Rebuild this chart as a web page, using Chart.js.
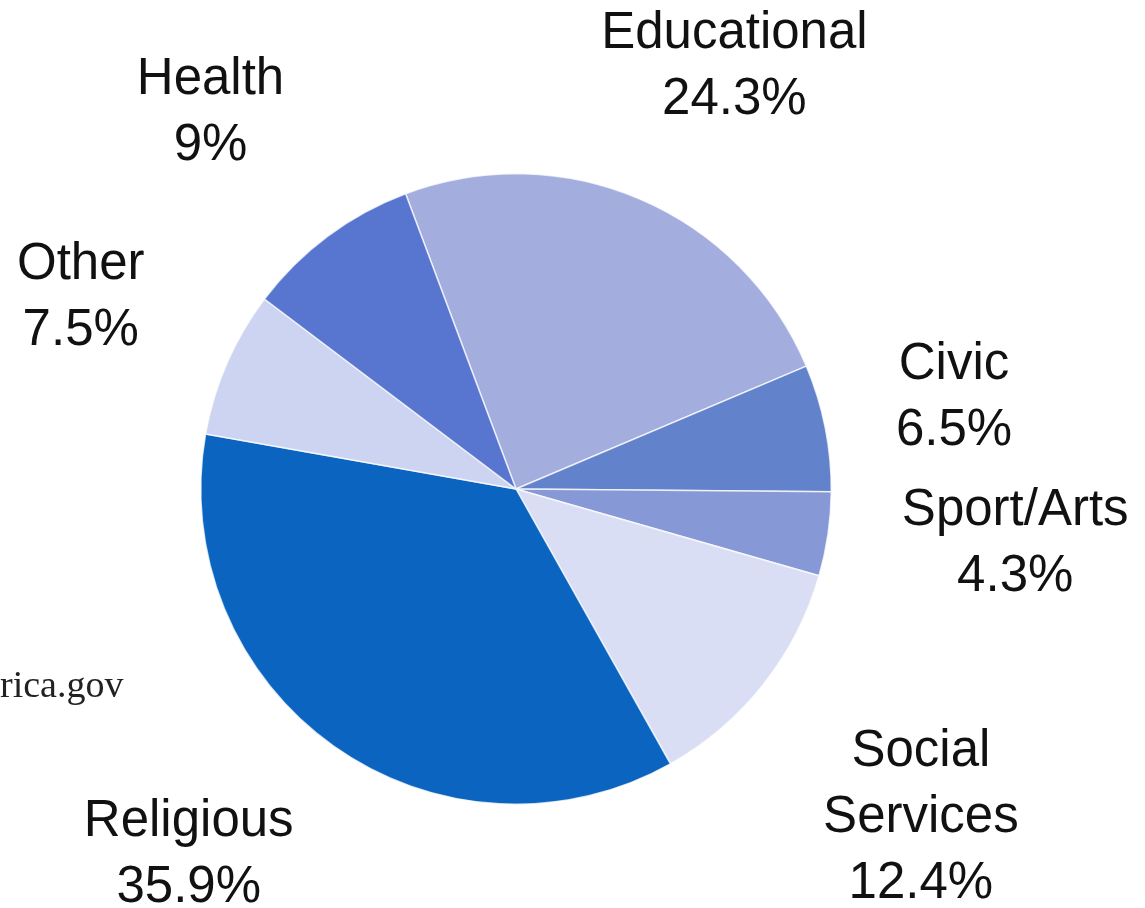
<!DOCTYPE html>
<html>
<head>
<meta charset="utf-8">
<script src="https://cdn.jsdelivr.net/npm/chart.js@4"></script>
<style>
    html, body { margin: 0; padding: 0; background: #fff; }
    #wrap { position: relative; width: 1145px; height: 908px; }
    #source {
        position: absolute; left: 0; top: 662px;
        font-family: "Liberation Serif", serif; font-size: 38px; color: #222;
    }
</style>
</head>
<body>
<div id="wrap">
    <canvas id="pie-chart" width="1145" height="908"></canvas>
    <div id="source">rica.gov</div>
</div>
<script>
// slices in clockwise order, starting at Educational
const categories = ['Educational', 'Civic', 'Sport/Arts', ['Social', 'Services'], 'Religious', 'Other', 'Health']
const shares     = [24.3, 6.5, 4.3, 12.4, 35.9, 7.5, 9]
const colors     = ['#a3aedf', '#6282cb', '#8798d6', '#dadef4', '#0a64c0', '#cdd4f1', '#5876cf']

// small hand tweaks so labels sit where the original put them
const labelNudge = [[29, 18], [-32, 2], [25, -14], [29, 32], [-50, -25], [4, 0], [-19, 8]]

const sliceLabels = {
    id: 'sliceLabels',
    afterDatasetsDraw(chart) {
        const ctx = chart.ctx
        const arcs = chart.getDatasetMeta(0).data
        ctx.save()
        ctx.font = '51px "Liberation Sans", Arial, sans-serif'
        ctx.fillStyle = '#111'
        ctx.textAlign = 'center'
        ctx.textBaseline = 'middle'
        arcs.forEach((arc, i) => {
            const mid = (arc.startAngle + arc.endAngle) / 2
            const dist = arc.outerRadius * 1.52
            const x = arc.x + Math.cos(mid) * dist + labelNudge[i][0]
            const y = arc.y + Math.sin(mid) * dist + labelNudge[i][1]
            const name = categories[i]
            const lines = (Array.isArray(name) ? name : [name]).concat(`${shares[i]}%`)
            const lh = 66
            const top = y - (lines.length - 1) * lh / 2
            lines.forEach((t, j) => ctx.fillText(t, x, top + j * lh))
        })
        ctx.restore()
    }
}

new Chart(document.getElementById('pie-chart').getContext('2d'), {
    type: 'pie',
    data: {
        labels: categories,
        datasets: [{
            data: shares,
            backgroundColor: colors,
            borderColor: 'rgba(255, 255, 255, 0.75)',
            borderWidth: 1.5
        }]
    },
    options: {
        responsive: false,
        animation: false,
        devicePixelRatio: 1,
        rotation: -20.5,
        layout: { padding: { left: 200, right: 313, top: 173, bottom: 103 } },
        plugins: {
            legend: { display: false },
            tooltip: { enabled: false }
        }
    },
    plugins: [sliceLabels]
})
</script>
</body>
</html>
